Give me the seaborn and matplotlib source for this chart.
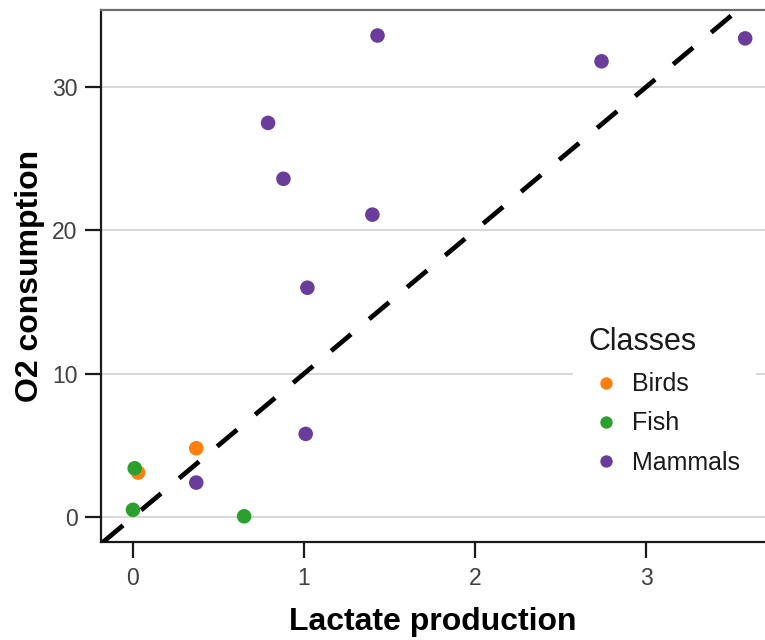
import matplotlib
matplotlib.use("Agg")
import matplotlib.pyplot as plt
import seaborn as sns
import pandas as pd

# Data
classes = ["Birds", "Birds",
           "Fish", "Fish", "Fish",
           "Mammals", "Mammals", "Mammals", "Mammals", "Mammals",
           "Mammals", "Mammals", "Mammals", "Mammals"]
lactate = [0.03, 0.37,
           0.01, 0.00, 0.65,
           0.37, 1.01, 1.02, 1.40, 0.88,
           0.79, 1.43, 2.74, 3.58]
o2 = [3.1, 4.8,
      3.4, 0.5, 0.05,
      2.4, 5.8, 16.0, 21.1, 23.6,
      27.5, 33.6, 31.8, 33.4]
class_order = ["Birds", "Fish", "Mammals"]
class_colors = ["#ff7f0e", "#2ca02c", "#6a3d9a"]
x_ticks = [0, 1, 2, 3]
y_ticks = [0, 10, 20, 30]
ref_slope = 10

df = pd.DataFrame({"Lactate production": lactate, "O2 consumption": o2, "Classes": classes})

sns.set_theme(style="white")
plt.rcParams["font.family"] = ["Liberation Sans", "DejaVu Sans"]

W, H = 765, 640
fig = plt.figure(figsize=(W / 100, H / 100), dpi=100)
ax = fig.add_axes([101 / W, 1 - 542 / H, 1 - 101 / W, (542 - 10) / H])

ax.set_xlim(-0.187, 3.696)
ax.set_ylim(-1.745, 35.38)
ax.set_yticks(y_ticks)
ax.set_xticks(x_ticks)
ax.yaxis.grid(True, color="#d4d4d4", linewidth=1.3)
ax.xaxis.grid(False)
ax.set_axisbelow(True)

ax.axline((0, 0), slope=ref_slope, color="black", linewidth=3.4,
          linestyle=(0, (5.5, 5.0)), zorder=3)

sns.scatterplot(data=df, x="Lactate production", y="O2 consumption", hue="Classes",
                hue_order=class_order, palette=class_colors, s=110, linewidth=0,
                ax=ax, zorder=4)

for side in ["left", "bottom"]:
    ax.spines[side].set_color("#1a1a1a")
    ax.spines[side].set_linewidth(1.6)
ax.spines["top"].set_color("#6e6e6e")
ax.spines["top"].set_linewidth(1.6)
ax.spines["right"].set_visible(False)

ax.tick_params(axis="both", direction="out", length=11.5, width=1.6, color="#1a1a1a",
               labelsize=16.5, labelcolor="#404040", left=True, bottom=True)
ax.tick_params(axis="x", pad=6.5)
ax.tick_params(axis="y", pad=5.5)

ax.set_xlabel("Lactate production", fontsize=23, fontweight="bold", color="black", labelpad=12)
ax.set_ylabel("O2 consumption", fontsize=23, fontweight="bold", color="black", labelpad=5)

leg = ax.legend(title="Classes", loc="upper left",
                bbox_to_anchor=(573 / W, 1 - 312 / H), bbox_transform=fig.transFigure,
                frameon=True, fontsize=18, title_fontsize=22, markerscale=0.85,
                handlelength=1.4, handletextpad=0.37, labelspacing=0.61,
                borderpad=0.6, borderaxespad=0)
leg.get_frame().set_edgecolor("white")
leg.get_frame().set_facecolor("white")
leg.get_frame().set_alpha(1)
leg.get_frame().set_boxstyle("square", pad=0)
leg._legend_box.align = "left"
for t in leg.get_texts():
    t.set_color("#1a1a1a")
leg.get_title().set_color("#1a1a1a")

fig.savefig("out.png", dpi=100)
